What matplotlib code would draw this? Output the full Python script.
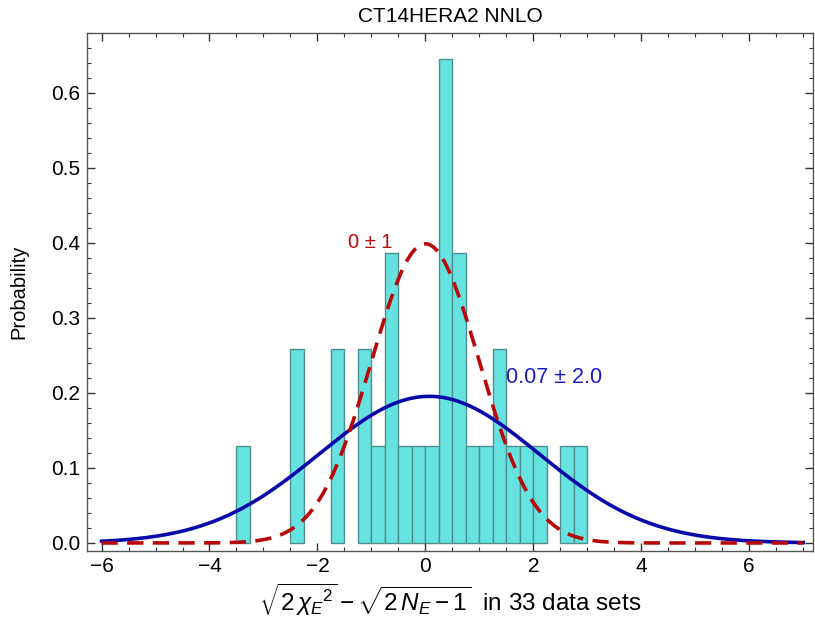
import numpy as np
import matplotlib
matplotlib.use("Agg")
import matplotlib.pyplot as plt
from matplotlib.ticker import MultipleLocator

# histogram bins (left edges), width 0.25, and counts out of 31 entries
bin_left = [-3.5, -2.5, -1.75, -1.25, -1.0, -0.75, -0.5, -0.25, 0.0, 0.25,
            0.5, 0.75, 1.0, 1.25, 1.5, 1.75, 2.0, 2.5, 2.75]
counts = [1, 2, 2, 2, 1, 3, 1, 1, 1, 5, 3, 1, 1, 2, 1, 1, 1, 1, 1]
bin_width = 0.25
n_entries = 31

# gaussian curves (mean, sigma)
ref_mu, ref_sigma = 0.0, 1.0
fit_mu, fit_sigma = 0.07, 2.04

plt.rcParams["font.family"] = ["Liberation Sans", "DejaVu Sans"]
plt.rcParams["mathtext.fontset"] = "custom"
plt.rcParams["mathtext.rm"] = "Liberation Sans"
plt.rcParams["mathtext.it"] = "Liberation Sans:italic"


def gauss(x, mu, s):
    return np.exp(-0.5 * ((x - mu) / s) ** 2) / (s * np.sqrt(2 * np.pi))


fig = plt.figure(figsize=(8.15, 6.18), dpi=100)
ax = fig.add_axes([0.1067, 0.1084, 0.8908, 0.8382])

heights = np.array(counts) / (n_entries * bin_width)
ax.bar(bin_left, heights, width=bin_width, align="edge",
       color="#66E3E1", edgecolor="#4F8F8E", linewidth=1.0, zorder=1)

x = np.linspace(-6, 7, 600)
ax.plot(x, gauss(x, fit_mu, fit_sigma), color="#0A0AAA", lw=2.6, zorder=3)
ax.plot(x, gauss(x, ref_mu, ref_sigma), color="#B80808", lw=2.6,
        dashes=(4.5, 2.6), zorder=4)

ax.text(-1.03, 0.4, "0 \u00b1 1", color="#B80808", fontsize=14.5,
        ha="center", va="center")
ax.text(1.5, 0.22, "0.07 \u00b1 2.0", color="#1A1ACC", fontsize=15.5,
        ha="left", va="center")

ax.set_xlim(-6.27, 7.18)
ax.set_ylim(-0.0107, 0.68)
ax.xaxis.set_major_locator(MultipleLocator(2))
ax.xaxis.set_minor_locator(MultipleLocator(0.5))
ax.yaxis.set_major_locator(MultipleLocator(0.1))
ax.yaxis.set_minor_locator(MultipleLocator(0.02))
ax.yaxis.set_major_formatter(matplotlib.ticker.FormatStrFormatter("%.1f"))
ax.xaxis.set_major_formatter(
    matplotlib.ticker.FuncFormatter(lambda v, p: f"{v:.0f}".replace("-", "\u2212")))
ax.tick_params(which="both", direction="in", top=True, right=True,
               labelsize=15, color="#333333")
ax.tick_params(which="major", length=6, width=1.0)
ax.tick_params(which="minor", length=3, width=0.8)
ax.tick_params(axis="x", pad=4)
ax.tick_params(axis="y", pad=5)
for sp in ax.spines.values():
    sp.set_color("#555555")
    sp.set_linewidth(1.0)

ax.set_title("CT14HERA2 NNLO", fontsize=15, pad=8)
ax.set_ylabel("Probability", fontsize=14.5, labelpad=16)
ax.set_xlabel(r"$\sqrt{2\,\chi_E{}^{2}}-\sqrt{2\,N_E-1}$  in 33 data sets",
              fontsize=17.5, labelpad=4)

fig.savefig("out.png", dpi=100)
